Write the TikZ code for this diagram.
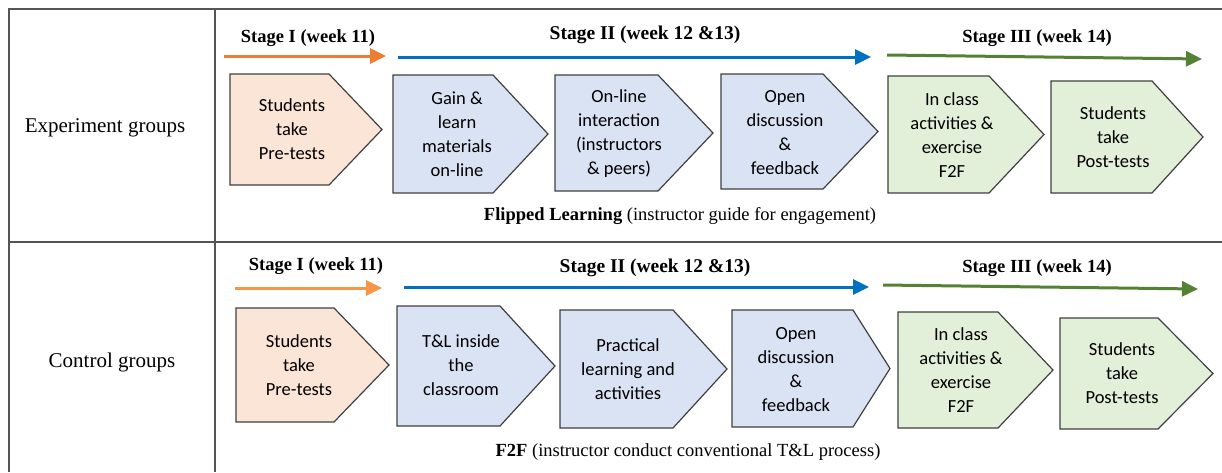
\documentclass[tikz,border=0pt]{standalone}
\usepackage{fontspec}
\setmainfont{Liberation Serif}
\newfontfamily\boxfont{Carlito}
\usetikzlibrary{arrows.meta}
\definecolor{orA}{HTML}{ED7D31}
\definecolor{orB}{HTML}{F79646}
\definecolor{blA}{HTML}{0070C0}
\definecolor{grA}{HTML}{548235}
\definecolor{fOr}{HTML}{FBE5D6}
\definecolor{fBl}{HTML}{DAE3F3}
\definecolor{fGr}{HTML}{E2F0D9}
\definecolor{edgeC}{HTML}{404040}
\definecolor{gridC}{HTML}{555555}
\tikzset{
  grid line/.style={draw=gridC, line width=1.3pt},
  stagearrow/.style={line width=3pt, -{Triangle[length=16pt,width=15pt]}},
  pentshape/.style={draw=edgeC, line width=1.2pt, line join=miter},
  boxtext/.style={align=center, inner sep=0pt, font=\boxfont\fontsize{18.5}{24}\selectfont},
  stagelabel/.style={inner sep=0pt, font=\bfseries\fontsize{18.5}{22}\selectfont},
  caption/.style={inner sep=0pt, font=\fontsize{18.5}{22}\selectfont},
  grouplabel/.style={inner sep=0pt, font=\fontsize{21}{24}\selectfont},
}
% #1 left, #2 top, #3 pointer start, #4 tip x, #5 tip y, #6 bottom, #7 fill
\newcommand{\pentagon}[7]{%
  \path[pentshape, fill=#7] (#1,#2) -- (#3,#2) -- (#4,#5) -- (#3,#6) -- (#1,#6) -- cycle;}
\begin{document}
\begin{tikzpicture}[x=1pt,y=-1pt]
\useasboundingbox (0,0) rectangle (1222,472);
% table grid
\draw[grid line] (1222,9) -- (9,9) -- (9,472);
\draw[grid line] (215,9) -- (215,472);
\draw[grid line] (9,242) -- (1222,242);
% group labels
\node[grouplabel] (expg) at (105,128) {Experiment groups};
\node[grouplabel] (ctrlg) at (112,362) {Control groups};

% ===== top row =====
\node[stagelabel] (s1a) at (308,38) {Stage I (week 11)};
\node[stagelabel, font=\bfseries\fontsize{19.5}{22}\selectfont] (s2a) at (645,35) {Stage II (week 12 \&13)};
\node[stagelabel] (s3a) at (1037,38) {Stage III (week 14)};
\coordinate (a1s) at (224,56); \coordinate (a1e) at (386,56);
\coordinate (a2s) at (398,57); \coordinate (a2e) at (871,57);
\coordinate (a3s) at (887,55); \coordinate (a3e) at (1202,59);
\draw[stagearrow, orA] (a1s) -- (a1e);
\draw[stagearrow, blA] (a2s) -- (a2e);
\draw[stagearrow, grA] (a3s) -- (a3e);

\pentagon{230}{74}{329}{382}{129.5}{185}{fOr}
\pentagon{393}{75}{493}{548}{134}{193}{fBl}
\pentagon{555}{75}{658}{713}{133}{191}{fBl}
\pentagon{721}{74}{823}{878}{131.5}{189}{fBl}
\pentagon{888}{76}{989}{1044}{134.5}{193}{fGr}
\pentagon{1051}{81}{1152}{1203}{137}{193}{fGr}

\node[boxtext] (t1) at (292,129) {Students\\take\\Pre-tests};
\node[boxtext] (t2) at (457,134) {Gain \&\\learn\\materials\\on-line};
\node[boxtext] (t3) at (619,134) {On-line\\interaction\\(instructors\\\& peers)};
\node[boxtext] (t4) at (785,133) {Open\\discussion\\\&\\feedback};
\node[boxtext] (t5) at (952,135) {In class\\activities \&\\exercise\\F2F};
\node[boxtext] (t6) at (1113,137) {Students\\take\\Post-tests};

\node[caption] (capa) at (680,216) {\textbf{Flipped Learning} (instructor guide for engagement)};

% ===== bottom row =====
\node[stagelabel] (s1b) at (316,266) {Stage I (week 11)};
\node[stagelabel, font=\bfseries\fontsize{19.5}{22}\selectfont] (s2b) at (655,268) {Stage II (week 12 \&13)};
\node[stagelabel] (s3b) at (1037,268) {Stage III (week 14)};
\coordinate (b1s) at (235,288); \coordinate (b1e) at (382,288);
\coordinate (b2s) at (404,287); \coordinate (b2e) at (869,287);
\coordinate (b3s) at (883,285); \coordinate (b3e) at (1198,289);
\draw[stagearrow, orB] (b1s) -- (b1e);
\draw[stagearrow, blA] (b2s) -- (b2e);
\draw[stagearrow, grA] (b3s) -- (b3e);

\pentagon{236}{308}{334}{389}{365}{422}{fOr}
\pentagon{397}{306}{500}{555}{366}{426}{fBl}
\pentagon{560}{310}{673}{727}{369}{428}{fBl}
\pentagon{732}{310}{853}{890}{368.5}{427}{fBl}
\pentagon{898}{312}{998}{1053}{370}{428}{fGr}
\pentagon{1060}{318}{1158}{1213}{373.5}{429}{fGr}

\node[boxtext] (u1) at (299,365) {Students\\take\\Pre-tests};
\node[boxtext] (u2) at (461,365) {T\&L inside\\the\\classroom};
\node[boxtext] (u3) at (628,369) {Practical\\learning and\\activities};
\node[boxtext] (u4) at (796,370) {Open\\discussion\\\&\\feedback};
\node[boxtext] (u5) at (961,370) {In class\\activities \&\\exercise\\F2F};
\node[boxtext] (u6) at (1122,373) {Students\\take\\Post-tests};

\node[caption] (capb) at (688,452) {\textbf{F2F} (instructor conduct conventional T\&L process)};
\end{tikzpicture}
\end{document}
